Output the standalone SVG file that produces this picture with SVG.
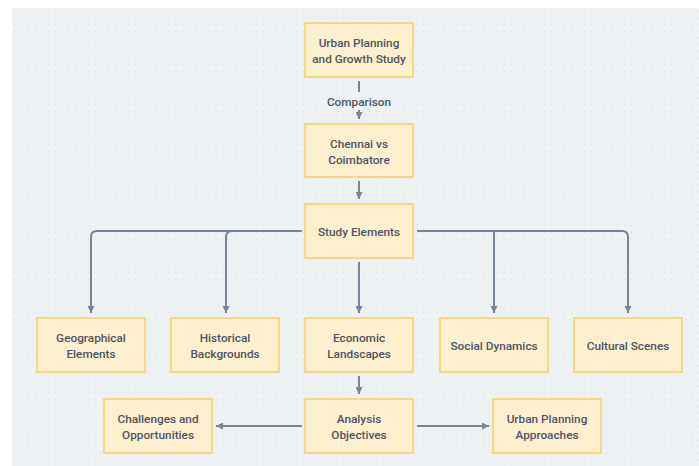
<svg xmlns="http://www.w3.org/2000/svg" width="699" height="466" viewBox="0 0 699 466">
<defs>
<pattern id="dots" x="12" y="8" width="6.7" height="6.7" patternUnits="userSpaceOnUse">
<circle cx="3" cy="3" r="0.6" fill="#d5dbe1"/>
</pattern>
<marker id="arr" viewBox="0 0 10 10" refX="10" refY="5" markerWidth="7" markerHeight="7" markerUnits="userSpaceOnUse" orient="auto">
<path d="M0,0 L10,5 L0,10 z" fill="#75859a"/>
</marker>
<style>
.n rect{fill:#fdf0cf;stroke:#f6d264;stroke-width:1.5}
.n text,.lbl{font-family:Roboto,"Liberation Sans",sans-serif;font-size:11.8px;font-weight:500;fill:#4d5562;text-anchor:middle;dominant-baseline:central}
.c path{fill:none;stroke:#75859a;stroke-width:2}
.c .a{marker-end:url(#arr)}
</style>
</defs>
<rect x="0" y="0" width="699" height="466" fill="#ffffff"/>
<rect x="12" y="8" width="687" height="458" fill="#eef2f5"/>
<rect x="12" y="8" width="687" height="458" fill="url(#dots)"/>

<g id="connectors" class="c">
<path d="M359,81 L359,92"/>
<text class="lbl" x="359" y="101.5">Comparison</text>
<path class="a" d="M359,110 L359,119"/>
<path class="a" d="M359,181 L359,199"/>
<path class="a" d="M302,231 L97,231 Q91,231 91,237 L91,313"/>
<path class="a" d="M232,231 Q226,231 226,237 L226,313"/>
<path class="a" d="M359,262 L359,313"/>
<path class="a" d="M417,231 L622,231 Q628,231 628,237 L628,313"/>
<path class="a" d="M494,231 L494,313"/>
<path class="a" d="M359,376 L359,394"/>
<path class="a" d="M302,426 L216,426"/>
<path class="a" d="M417,426 L489,426"/>
</g>

<g id="urban-planning-growth" class="n"><rect x="305" y="23" width="108" height="54"/><text x="359" y="42.5">Urban Planning</text><text x="359" y="58.5">and Growth Study</text></g>
<g id="chennai-coimbatore" class="n"><rect x="305" y="124" width="108" height="53"/><text x="359" y="143.5">Chennai vs</text><text x="359" y="159.5">Coimbatore</text></g>
<g id="study-elements" class="n"><rect x="305" y="204" width="108" height="54"/><text x="359" y="231.5">Study Elements</text></g>
<g id="geographical" class="n"><rect x="37" y="318" width="108" height="54"/><text x="91" y="337.5">Geographical</text><text x="91" y="353.5">Elements</text></g>
<g id="historical" class="n"><rect x="171" y="318" width="108" height="54"/><text x="225" y="337.5">Historical</text><text x="225" y="353.5">Backgrounds</text></g>
<g id="economic" class="n"><rect x="305" y="318" width="108" height="54"/><text x="359" y="337.5">Economic</text><text x="359" y="353.5">Landscapes</text></g>
<g id="social" class="n"><rect x="440" y="318" width="108" height="54"/><text x="494" y="345.5">Social Dynamics</text></g>
<g id="cultural" class="n"><rect x="574" y="318" width="108" height="54"/><text x="628" y="345.5">Cultural Scenes</text></g>
<g id="challenges" class="n"><rect x="104" y="399" width="108" height="54"/><text x="158" y="418.5">Challenges and</text><text x="158" y="434.5">Opportunities</text></g>
<g id="analysis" class="n"><rect x="305" y="399" width="108" height="54"/><text x="359" y="418.5">Analysis</text><text x="359" y="434.5">Objectives</text></g>
<g id="approaches" class="n"><rect x="493" y="399" width="108" height="54"/><text x="547" y="418.5">Urban Planning</text><text x="547" y="434.5">Approaches</text></g>
</svg>
